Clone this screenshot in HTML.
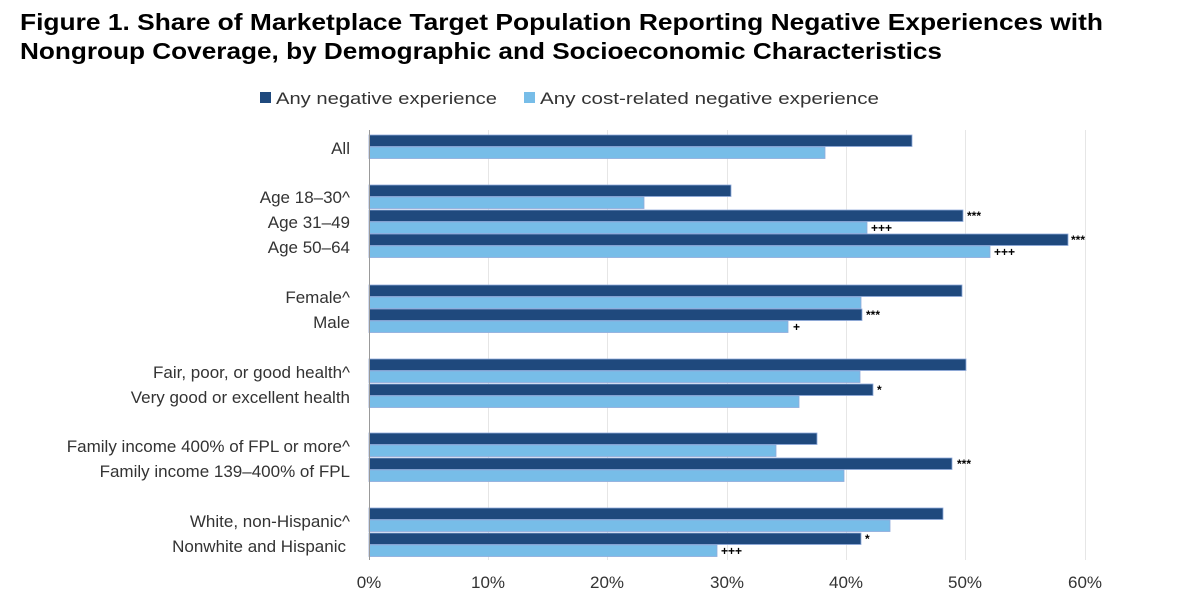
<!DOCTYPE html>
<html><head><meta charset="utf-8"><style>
body{margin:0;background:#fff;}
svg text{font-family:"Liberation Sans",sans-serif;}
</style></head><body>
<svg width="1200" height="600" viewBox="0 0 1200 600" xmlns="http://www.w3.org/2000/svg">
<text x="20" y="30" font-size="23" font-weight="bold" fill="#000" textLength="1083" lengthAdjust="spacingAndGlyphs">Figure 1. Share of Marketplace Target Population Reporting Negative Experiences with</text>
<text x="20" y="59" font-size="23" font-weight="bold" fill="#000" textLength="922" lengthAdjust="spacingAndGlyphs">Nongroup  Coverage, by Demographic and Socioeconomic Characteristics</text>
<rect x="260" y="92" width="11" height="11" fill="#1f497d"/>
<text x="276" y="104" font-size="17" fill="#333" textLength="221" lengthAdjust="spacingAndGlyphs">Any negative experience</text>
<rect x="524" y="92" width="11" height="11" fill="#77bde8"/>
<text x="540" y="104" font-size="17" fill="#333" textLength="339" lengthAdjust="spacingAndGlyphs">Any cost-related negative experience</text>
<g stroke="#e6e6e6" stroke-width="1">
<line x1="488.5" y1="130" x2="488.5" y2="560"/><line x1="607.5" y1="130" x2="607.5" y2="560"/>
<line x1="727.5" y1="130" x2="727.5" y2="560"/><line x1="846.5" y1="130" x2="846.5" y2="560"/>
<line x1="965.5" y1="130" x2="965.5" y2="560"/><line x1="1085.5" y1="130" x2="1085.5" y2="560"/>
</g>
<g stroke="#8eaadb" stroke-width="0.8">
<rect x="369" y="135" width="543" height="11.5" fill="#1f497d"/><rect x="369" y="147" width="456" height="11.5" fill="#77bde8"/>
<rect x="369" y="185" width="362" height="11.5" fill="#1f497d"/><rect x="369" y="197" width="275" height="11.5" fill="#77bde8"/>
<rect x="369" y="210" width="594" height="11.5" fill="#1f497d"/><rect x="369" y="222" width="498" height="11.5" fill="#77bde8"/>
<rect x="369" y="234" width="699" height="11.5" fill="#1f497d"/><rect x="369" y="246" width="621" height="11.5" fill="#77bde8"/>
<rect x="369" y="285" width="593" height="11.5" fill="#1f497d"/><rect x="369" y="297" width="492" height="11.5" fill="#77bde8"/>
<rect x="369" y="309" width="493" height="11.5" fill="#1f497d"/><rect x="369" y="321" width="419" height="11.5" fill="#77bde8"/>
<rect x="369" y="359" width="597" height="11.5" fill="#1f497d"/><rect x="369" y="371" width="491" height="11.5" fill="#77bde8"/>
<rect x="369" y="384" width="504" height="11.5" fill="#1f497d"/><rect x="369" y="396" width="430" height="11.5" fill="#77bde8"/>
<rect x="369" y="433" width="448" height="11.5" fill="#1f497d"/><rect x="369" y="445" width="407" height="11.5" fill="#77bde8"/>
<rect x="369" y="458" width="583" height="11.5" fill="#1f497d"/><rect x="369" y="470" width="475" height="11.5" fill="#77bde8"/>
<rect x="369" y="508" width="574" height="11.5" fill="#1f497d"/><rect x="369" y="520" width="521" height="11.5" fill="#77bde8"/>
<rect x="369" y="533" width="492" height="11.5" fill="#1f497d"/><rect x="369" y="545" width="348" height="11.5" fill="#77bde8"/>
</g>
<line x1="369.5" y1="130" x2="369.5" y2="560" stroke="#999" stroke-width="1"/>
<g font-size="12" font-weight="bold" fill="#000">
<text x="967" y="220">***</text><text x="871" y="232">+++</text>
<text x="1071" y="244">***</text><text x="994" y="256">+++</text>
<text x="866" y="319">***</text><text x="793" y="331">+</text>
<text x="877" y="394">*</text>
<text x="957" y="468">***</text>
<text x="865" y="543">*</text><text x="721" y="555">+++</text>
</g>
<g font-size="17" fill="#333" text-anchor="end">
<text x="350" y="154">All</text>
<text x="350" y="203">Age 18–30^</text>
<text x="350" y="228">Age 31–49</text>
<text x="350" y="253">Age 50–64</text>
<text x="350" y="303">Female^</text>
<text x="350" y="328">Male</text>
<text x="350" y="378">Fair, poor, or good health^</text>
<text x="350" y="403">Very good or excellent health</text>
<text x="350" y="452">Family income 400% of FPL or more^</text>
<text x="350" y="477">Family income 139–400% of FPL</text>
<text x="350" y="527">White, non-Hispanic^</text>
<text x="346" y="552">Nonwhite  and Hispanic</text>
</g>
<g font-size="17" fill="#333" text-anchor="middle">
<text x="369" y="588">0%</text><text x="488" y="588">10%</text><text x="607" y="588">20%</text>
<text x="727" y="588">30%</text><text x="846" y="588">40%</text><text x="965" y="588">50%</text><text x="1085" y="588">60%</text>
</g>
</svg>
</body></html>
